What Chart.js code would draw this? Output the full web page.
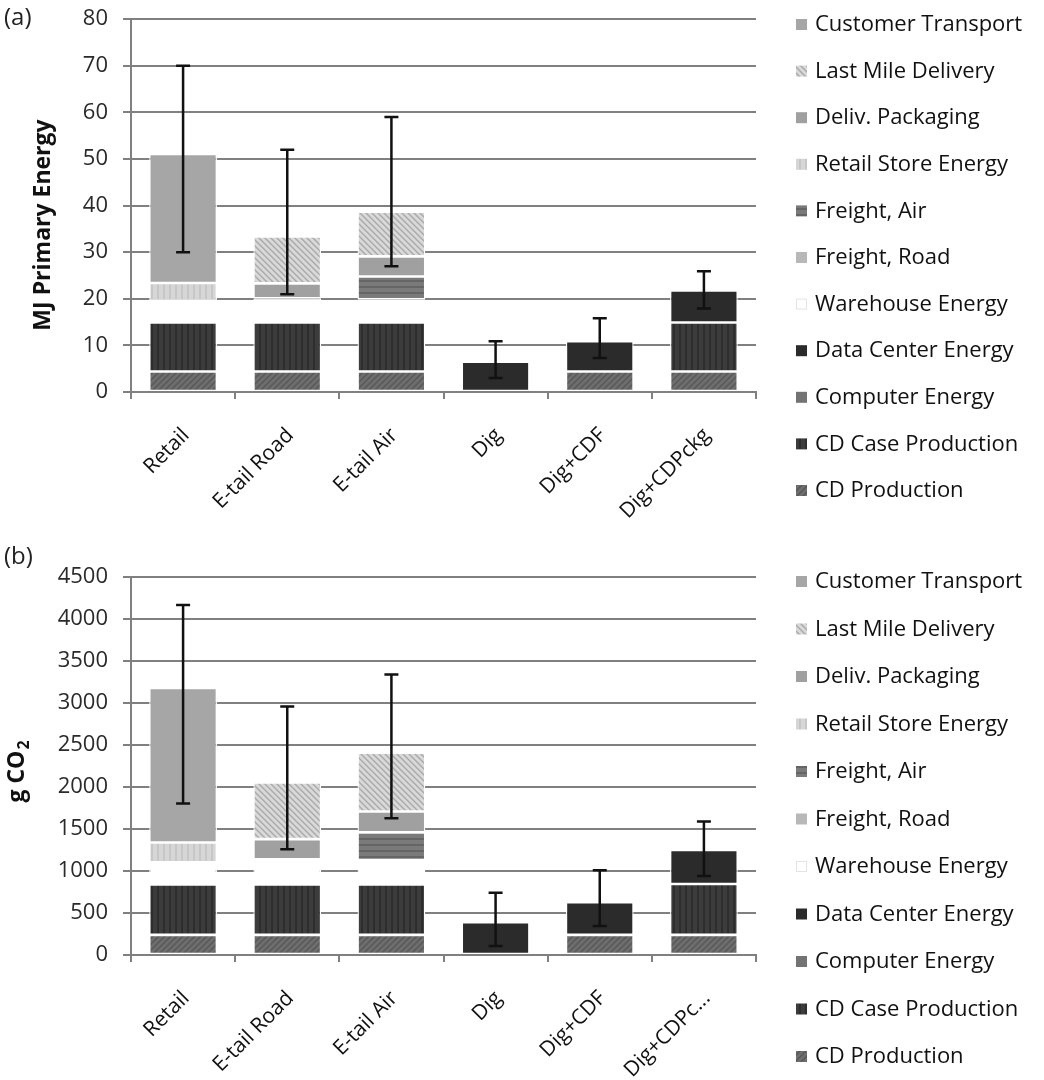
<!DOCTYPE html>
<html>
<head>
<meta charset="utf-8">
<script src="https://cdn.jsdelivr.net/npm/chart.js@4.4.1/dist/chart.umd.min.js"></script>
<style>
  body { margin: 0; background: #fff; width: 1044px; height: 1080px; position: relative; overflow: hidden; font-family: "Open Sans", sans-serif; }
  .panel { position: absolute; left: 0; width: 1044px; }
  .tag { position: absolute; left: 4px; font-size: 24px; color: #222; }
</style>
</head>
<body>
<div class="panel" style="top:-9px;height:529px"><canvas id="chartA"></canvas></div>
<div class="panel" style="top:549px;height:531px"><canvas id="chartB"></canvas></div>
<div class="tag" style="top:-1px">(a)</div>
<div class="tag" style="top:538px">(b)</div>
<script>
// categories
const categoriesA = ["Retail", "E-tail Road", "E-tail Air", "Dig", "Dig+CDF", "Dig+CDPckg"];
const categoriesB = ["Retail", "E-tail Road", "E-tail Air", "Dig", "Dig+CDF", "Dig+CDPc..."];

// stacking order, bottom to top
const seriesNames = ["CD Production", "CD Case Production", "Computer Energy", "Data Center Energy",
  "Warehouse Energy", "Freight, Road", "Freight, Air", "Retail Store Energy",
  "Deliv. Packaging", "Last Mile Delivery", "Customer Transport"];

// (a) MJ primary energy
const mjCDProduction   = [4.4, 4.4, 4.4, 0, 4.4, 4.4];
const mjCDCase         = [10.5, 10.5, 10.5, 0, 0, 10.5];
const mjComputer       = [0, 0, 0, 0, 0, 0];
const mjDataCenter     = [0, 0, 0, 6.5, 6.5, 6.9];
const mjWarehouse      = [4.7, 5.2, 5.0, 0, 0, 0];
const mjFreightRoad    = [0, 0, 0, 0, 0, 0];
const mjFreightAir     = [0, 0, 4.9, 0, 0, 0];
const mjRetailStore    = [3.8, 0, 0, 0, 0, 0];
const mjDelivPackaging = [0, 3.2, 4.3, 0, 0, 0];
const mjLastMile       = [0, 10.1, 9.6, 0, 0, 0];
const mjCustomer       = [27.7, 0, 0, 0, 0, 0];
const mjErrLow  = [30, 21, 27, 3, 7.3, 17.9];
const mjErrHigh = [70, 52, 59, 10.9, 15.8, 25.9];
const mjMax = 80, mjStep = 10;

// (b) g CO2
const co2CDProduction   = [240, 240, 240, 0, 240, 240];
const co2CDCase         = [600, 600, 600, 0, 0, 605];
const co2Computer       = [0, 0, 0, 0, 0, 0];
const co2DataCenter     = [0, 0, 0, 390, 390, 405];
const co2Warehouse      = [265, 300, 290, 0, 0, 0];
const co2FreightRoad    = [0, 0, 0, 0, 0, 0];
const co2FreightAir     = [0, 0, 330, 0, 0, 0];
const co2RetailStore    = [235, 0, 0, 0, 0, 0];
const co2DelivPackaging = [0, 240, 250, 0, 0, 0];
const co2LastMile       = [0, 675, 700, 0, 0, 0];
const co2Customer       = [1840, 0, 0, 0, 0, 0];
const co2ErrLow  = [1805, 1260, 1630, 107, 345, 940];
const co2ErrHigh = [4170, 2960, 3340, 740, 1010, 1590];
const co2Max = 4500, co2Step = 500;

Chart.defaults.font.family = '"Open Sans", sans-serif';
Chart.defaults.color = "#222";

// small tiled fills to mimic the hatched bars
function pattern(bg, fg, kind) {
  const c = document.createElement("canvas");
  c.width = c.height = 6;
  const g = c.getContext("2d");
  g.fillStyle = bg;
  g.fillRect(0, 0, 6, 6);
  if (kind) {
    g.strokeStyle = fg;
    g.lineWidth = 1.4;
    g.beginPath();
    if (kind === "v") { g.moveTo(2, 0); g.lineTo(2, 6); }
    if (kind === "h") { g.moveTo(0, 2); g.lineTo(6, 2); }
    if (kind === "f") { g.moveTo(-1, 7); g.lineTo(7, -1); g.moveTo(-1, 1); g.lineTo(1, -1); g.moveTo(5, 7); g.lineTo(7, 5); }
    if (kind === "b") { g.moveTo(-1, -1); g.lineTo(7, 7); g.moveTo(5, -1); g.lineTo(7, 1); g.moveTo(-1, 5); g.lineTo(1, 7); }
    g.stroke();
  }
  return g.createPattern(c, "repeat");
}

const fills = [
  pattern("#6e6e6e", "#575757", "f"),  // CD Production
  pattern("#3c3c3c", "#282828", "v"),  // CD Case
  "#737373",                           // Computer
  "#2b2b2b",                           // Data Center
  "#ffffff",                           // Warehouse
  "#b8b8b8",                           // Freight Road
  pattern("#7a7a7a", "#5c5c5c", "h"),  // Freight Air
  pattern("#d6d6d6", "#c0c0c0", "v"),  // Retail Store
  "#a0a0a0",                           // Deliv. Packaging
  pattern("#d9d9d9", "#a9a9a9", "b"),  // Last Mile
  "#a6a6a6"                            // Customer Transport
];

const sideLegend = {
  id: "sideLegend",
  afterDraw(chart, args, opts) {
    const ctx = chart.ctx;
    const ds = chart.data.datasets;
    ctx.save();
    ctx.font = '22px "Open Sans"';
    ctx.textBaseline = "middle";
    for (let k = 0; k < ds.length; k++) {
      const d = ds[ds.length - 1 - k];
      const y = opts.top + k * opts.step;
      ctx.fillStyle = d.backgroundColor;
      ctx.fillRect(opts.x, y - 5, 11, 11);
      if (d.backgroundColor === "#ffffff") {
        ctx.strokeStyle = "#e4e4e4";
        ctx.lineWidth = 1;
        ctx.strokeRect(opts.x + 0.5, y - 4.5, 10, 10);
      }
      ctx.fillStyle = "#111";
      ctx.fillText(d.label, opts.x + 19, y + 1);
    }
    ctx.restore();
  }
};

// vertical axis title, with an optional subscript part
const axisTitle = {
  id: "axisTitle",
  afterDraw(chart, args, opts) {
    const ctx = chart.ctx;
    ctx.save();
    ctx.translate(opts.x, opts.y);
    ctx.rotate(-Math.PI / 2);
    ctx.fillStyle = "#111";
    ctx.textBaseline = "middle";
    ctx.font = 'bold 23px "Open Sans"';
    const w1 = ctx.measureText(opts.text).width;
    let w2 = 0;
    if (opts.sub) {
      ctx.font = 'bold 16px "Open Sans"';
      w2 = ctx.measureText(opts.sub).width;
    }
    const x0 = -(w1 + w2) / 2;
    ctx.font = 'bold 23px "Open Sans"';
    ctx.fillText(opts.text, x0, 0);
    if (opts.sub) {
      ctx.font = 'bold 16px "Open Sans"';
      ctx.fillText(opts.sub, x0 + w1 + 1, 7);
    }
    ctx.restore();
  }
};

const errorBars = {
  id: "errorBars",
  afterDatasetsDraw(chart, args, opts) {
    const ctx = chart.ctx;
    const xs = chart.scales.x, ys = chart.scales.y;
    ctx.save();
    ctx.strokeStyle = "#111";
    ctx.lineWidth = 2.5;
    opts.low.forEach((lo, i) => {
      const px = xs.getPixelForValue(i);
      const y1 = ys.getPixelForValue(lo), y2 = ys.getPixelForValue(opts.high[i]);
      ctx.beginPath();
      ctx.moveTo(px, y1); ctx.lineTo(px, y2);
      ctx.moveTo(px - 7, y1); ctx.lineTo(px + 7, y1);
      ctx.moveTo(px - 7, y2); ctx.lineTo(px + 7, y2);
      ctx.stroke();
    });
    ctx.restore();
  }
};

function makeChart(id, labels, series, yMax, yStep, title, errLow, errHigh, xHeight, legendTop, legendStep) {
  const datasets = seriesNames.map((name, i) => ({
    label: name,
    data: series[i],
    backgroundColor: fills[i],
    borderColor: "#ffffff",
    borderWidth: 1.3,
    borderSkipped: false,
    barPercentage: 0.65,
    categoryPercentage: 1
  }));
  return new Chart(document.getElementById(id), {
    type: "bar",
    data: { labels, datasets },
    plugins: [sideLegend, errorBars, axisTitle],
    options: {
      responsive: true,
      maintainAspectRatio: false,
      animation: false,
      layout: { padding: { top: 0, right: 288, left: 0, bottom: 0 } },
      plugins: {
        legend: { display: false },
        tooltip: { enabled: false },
        sideLegend: { x: 796, top: legendTop, step: legendStep },
        errorBars: { low: errLow, high: errHigh },
        axisTitle: title
      },
      scales: {
        x: {
          stacked: true,
          grid: { offset: true, drawOnChartArea: false, color: "#808080", lineWidth: 2, tickLength: 7 },
          border: { color: "#808080", width: 2 },
          ticks: { color: "#111", font: { size: 21 }, minRotation: 45, maxRotation: 45, autoSkip: false, padding: 24, labelOffset: 3 },
          afterFit(s) { s.height = xHeight; }
        },
        y: {
          stacked: true,
          min: 0,
          max: yMax,
          ticks: { stepSize: yStep, color: "#2a2a2a", font: { size: 22 }, padding: 15, callback: v => String(v) },
          grid: { color: "#808080", lineWidth: 2, tickLength: 8 },
          border: { color: "#808080", width: 2 },
          afterFit(s) { s.width = 131; }
        }
      }
    }
  });
}

makeChart("chartA", categoriesA,
  [mjCDProduction, mjCDCase, mjComputer, mjDataCenter, mjWarehouse, mjFreightRoad,
   mjFreightAir, mjRetailStore, mjDelivPackaging, mjLastMile, mjCustomer],
  mjMax, mjStep, { text: "MJ Primary Energy", x: 43, y: 234 },
  mjErrLow, mjErrHigh, 128, 33, 46.6);

makeChart("chartB", categoriesB,
  [co2CDProduction, co2CDCase, co2Computer, co2DataCenter, co2Warehouse, co2FreightRoad,
   co2FreightAir, co2RetailStore, co2DelivPackaging, co2LastMile, co2Customer],
  co2Max, co2Step, { text: "g CO", sub: "2", x: 17, y: 223 },
  co2ErrLow, co2ErrHigh, 125, 32, 47.5);
</script>
</body>
</html>
